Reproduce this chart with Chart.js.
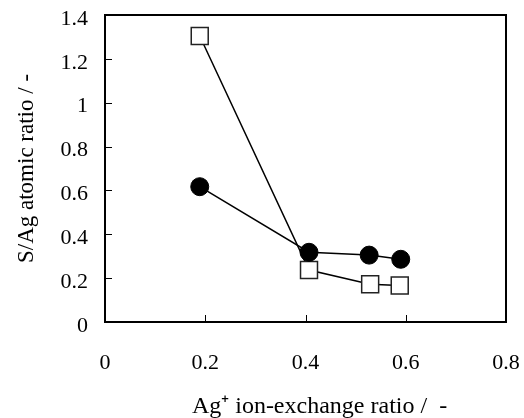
<!DOCTYPE html>
<html>
<head>
<meta charset="utf-8">
<script src="https://cdn.jsdelivr.net/npm/chart.js@4"></script>
<style>
  html, body { margin: 0; padding: 0; background: #fff; }
  #wrap { width: 524px; height: 418px; }
</style>
</head>
<body>
<div id="wrap"><canvas id="chart"></canvas></div>
<script>
// values
const circleX = [0.189, 0.407, 0.527, 0.590];
const circleY = [0.617, 0.318, 0.305, 0.286];
const squareX = [0.189, 0.407, 0.529, 0.588];
const squareY = [1.304, 0.237, 0.172, 0.166];

const xTicks = [0, 0.2, 0.4, 0.6, 0.8];
const yTicks = [0, 0.2, 0.4, 0.6, 0.8, 1, 1.2, 1.4];

const xTitle = 'Ag\u207A ion-exchange ratio /  -';
const yTitle = 'S/Ag atomic ratio / -';

const serif = '"Liberation Serif", "Times New Roman", serif';

function toPoints(xs, ys) {
    return xs.map(function(x, i) { return { x: x, y: ys[i] }; });
}

// frame, inward tick marks and the x axis title (sits right of centre in the original)
const framePlugin = {
    id: 'frame',
    afterDatasetsDraw: function(chart) {
        const ctx = chart.ctx;
        const a = chart.chartArea;
        const xs = chart.scales.x;
        const ys = chart.scales.y;
        ctx.save();
        ctx.strokeStyle = '#000';
        ctx.lineWidth = 1;
        xTicks.slice(1, -1).forEach(function(v) {
            const px = Math.round(xs.getPixelForValue(v)) + 0.5;
            ctx.beginPath();
            ctx.moveTo(px, a.bottom);
            ctx.lineTo(px, a.bottom - 7);
            ctx.stroke();
        });
        yTicks.slice(1, -1).forEach(function(v) {
            const py = Math.round(ys.getPixelForValue(v)) + 0.5;
            ctx.beginPath();
            ctx.moveTo(a.left, py);
            ctx.lineTo(a.left + 7, py);
            ctx.stroke();
        });
        ctx.lineWidth = 2;
        ctx.strokeRect(a.left, a.top, a.right - a.left, a.bottom - a.top);

        ctx.fillStyle = '#000';
        ctx.font = '24px ' + serif;
        ctx.textAlign = 'center';
        ctx.textBaseline = 'alphabetic';
        ctx.fillText(xTitle, (a.left + a.right) / 2 + 14, 413);
        ctx.restore();
    }
};

const ctx = document.getElementById('chart').getContext('2d');
new Chart(ctx, {
    type: 'scatter',
    data: {
        datasets: [
            {
                label: 'circle',
                data: toPoints(circleX, circleY),
                showLine: true,
                borderColor: '#000',
                borderWidth: 1.5,
                pointStyle: 'circle',
                pointRadius: 9,
                pointBackgroundColor: '#000',
                pointBorderColor: '#000',
                pointBorderWidth: 1
            },
            {
                label: 'square',
                data: toPoints(squareX, squareY),
                showLine: true,
                borderColor: '#000',
                borderWidth: 1.5,
                pointStyle: 'rect',
                pointRadius: 12,
                pointBackgroundColor: '#fff',
                pointBorderColor: '#222',
                pointBorderWidth: 1.5
            }
        ]
    },
    options: {
        responsive: true,
        maintainAspectRatio: false,
        animation: false,
        layout: { padding: { top: 15, right: 18, left: 0, bottom: 0 } },
        plugins: {
            legend: { display: false },
            tooltip: { enabled: false }
        },
        scales: {
            x: {
                type: 'linear',
                min: 0,
                max: 0.8,
                afterBuildTicks: function(scale) {
                    scale.ticks = xTicks.map(function(v) { return { value: v }; });
                },
                afterFit: function(scale) {
                    scale.height = 96;
                    scale.paddingLeft = 0;
                    scale.paddingRight = 0;
                },
                grid: { display: false, drawTicks: false },
                border: { display: false },
                ticks: {
                    color: '#000',
                    padding: 28,
                    maxRotation: 0,
                    font: { family: serif, size: 22 },
                    callback: function(v) { return String(v); }
                },
                title: { display: false }
            },
            y: {
                type: 'linear',
                min: 0,
                max: 1.4,
                afterBuildTicks: function(scale) {
                    scale.ticks = yTicks.map(function(v) { return { value: v }; });
                },
                afterFit: function(scale) {
                    scale.width = 105;
                    scale.paddingTop = 0;
                    scale.paddingBottom = 0;
                },
                grid: { display: false, drawTicks: false },
                border: { display: false },
                ticks: {
                    color: '#000',
                    padding: 17,
                    labelOffset: 4,
                    font: { family: serif, size: 22 },
                    callback: function(v) { return String(v); }
                },
                title: {
                    display: true,
                    text: yTitle,
                    color: '#000',
                    font: { family: serif, size: 23 },
                    padding: { top: 13, bottom: 0 }
                }
            }
        }
    },
    plugins: [framePlugin]
});
</script>
</body>
</html>
